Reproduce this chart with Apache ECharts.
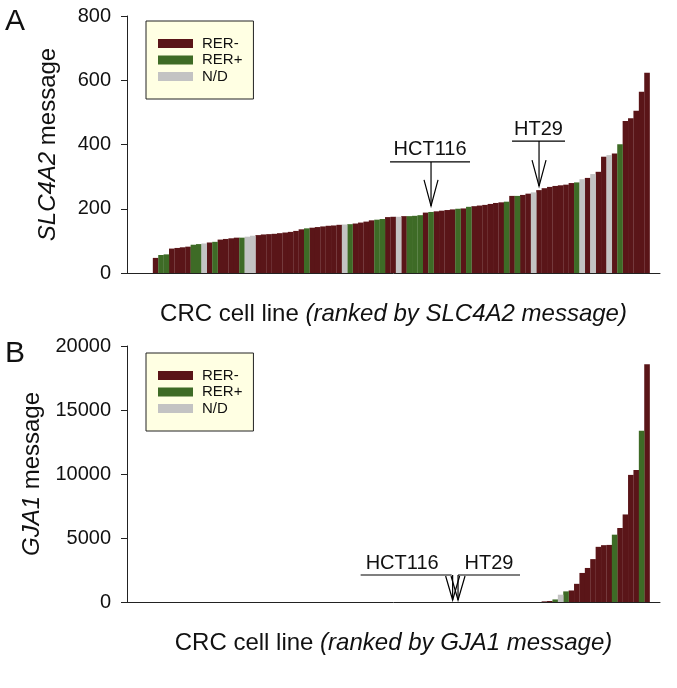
<!DOCTYPE html>
<html><head><meta charset="utf-8">
<script src="https://cdn.jsdelivr.net/npm/echarts@6/dist/echarts.min.js"></script>
<style>html,body{margin:0;padding:0;background:#fff}#c{width:677px;height:688px}</style>
</head><body><div id="c"></div>
<script>
// ---- data ----
const groupNames = ['RER-', 'RER+', 'N/D'];
// Panel A: SLC4A2 message, ranked (92 cell lines). group: 0=RER-, 1=RER+, 2=N/D
const slcValues = [47, 56, 58, 76, 78, 80, 82, 88, 90, 92, 95, 97, 104, 106, 108, 110, 110, 113, 116,
  118, 120, 121, 122, 124, 126, 128, 131, 136, 139, 141, 143, 145, 147, 148, 150, 151, 152,
  154, 157, 160, 164, 166, 168, 174, 175, 175, 177, 177, 178, 180, 188, 190, 192, 194, 196, 198,
  200, 201, 206, 208, 210, 212, 215, 218, 220, 222, 240, 240, 243, 247, 251,
  258, 264, 268, 271, 273, 275, 280, 282, 292, 296, 308, 315, 362, 367, 372, 401, 473, 482, 505, 564, 623];
const slcGroups = [0, 1, 1, 0, 0, 0, 0, 1, 1, 2, 0, 1, 0, 0, 0, 0, 1, 2, 2,
  0, 0, 0, 0, 0, 0, 0, 0, 0, 1, 0, 0, 0, 0, 0, 0, 2, 1,
  0, 0, 0, 0, 1, 1, 0, 0, 2, 0, 1, 1, 1, 0, 1, 0, 0, 0, 0,
  1, 0, 1, 0, 0, 0, 0, 0, 0, 1, 0, 1, 0, 0, 2,
  0, 0, 0, 0, 0, 0, 0, 1, 2, 0, 2, 0, 0, 2, 0, 1, 0, 0, 0, 0, 0];
// Panel B: GJA1 message, ranked (92 cell lines)
const gjaValues = [0, 0, 0, 0, 0, 0, 0, 0, 0, 0, 0, 0, 0, 0, 0, 0, 0, 0, 0, 0, 0, 0, 0, 0,
  0, 0, 0, 0, 0, 0, 0, 0, 0, 0, 0, 0, 0, 0, 0, 0, 0, 0, 0, 0, 0, 0, 0, 0,
  0, 0, 0, 0, 0, 0, 0, 0, 0, 0, 0, 0, 0, 0, 0, 0, 0, 0, 0, 0, 0, 0, 0, 0,
  50, 80, 200, 570, 830, 900, 1420, 2270, 2660, 3350, 4310, 4440, 4460, 5260, 5780, 6840, 9930, 10320, 13370, 18580];
const gjaGroups = [0, 0, 0, 0, 0, 0, 0, 0, 0, 0, 0, 0, 0, 0, 0, 0, 0, 0, 0, 0, 0, 0, 0, 0,
  0, 0, 0, 0, 0, 0, 0, 0, 0, 0, 0, 0, 0, 0, 0, 0, 0, 0, 0, 0, 0, 0, 0, 0,
  0, 0, 0, 0, 0, 0, 0, 0, 0, 0, 0, 0, 0, 0, 0, 0, 0, 0, 0, 0, 0, 0, 0, 0,
  0, 0, 1, 2, 1, 0, 0, 0, 0, 0, 0, 0, 0, 1, 0, 0, 0, 0, 1, 0];
const yTicksA = [0, 200, 400, 600, 800];
const yTicksB = [0, 5000, 10000, 15000, 20000];
const annoLabels = ['HCT116', 'HT29', 'HCT116', 'HT29'];
const annoPanel = [0, 0, 1, 1];
const annoIndex = [51, 71, 55, 56];
const annoValue = [190, 258, 0, 0];

// ---- styles ----
const FONT = '"Liberation Sans", Arial, Helvetica, sans-serif';
const groupColors = ['#5A1518', '#3E6B26', '#C3C3C3'];
const annoLayout = [
  {gap: 6, stem: 44, left: -41, right: 39, dx: 0},
  {gap: 4, stem: 45, left: -27, right: 26, dx: 0},
  {gap: 2, stem: 25, left: -92, right: -1, dx: -4},
  {gap: 2, stem: 25, left: 0, right: 62, dx: 0}
];

const chart = echarts.init(document.getElementById('c'), null, {renderer: 'canvas'});

function makeSeries(values, groups, idx) {
  return groupNames.map((name, g) => ({
    type: 'bar', name, xAxisIndex: idx, yAxisIndex: idx, stack: 'p' + idx,
    barWidth: 5.6, itemStyle: {color: groupColors[g]}, silent: true,
    data: values.map((v, i) => groups[i] === g ? [i, v] : null).filter(d => d !== null)
  }));
}
function xAx(idx, gene) {
  return {
    type: 'value', gridIndex: idx, min: -5.3, max: 93.4,
    axisLine: {show: true, onZero: false, lineStyle: {color: '#222', width: 1}},
    axisTick: {show: false}, axisLabel: {show: false}, splitLine: {show: false},
    name: 'CRC cell line {i|(ranked by ' + gene + ' message)}',
    nameLocation: 'middle', nameGap: 29,
    nameTextStyle: {fontFamily: FONT, fontSize: 24, color: '#111',
      rich: {i: {fontFamily: FONT, fontSize: 24, fontStyle: 'italic', color: '#111'}}}
  };
}
function yAx(idx, ticks, gene) {
  return {
    type: 'value', gridIndex: idx, min: ticks[0], max: ticks[ticks.length - 1],
    interval: ticks[1] - ticks[0],
    axisLine: {show: true, onZero: false, lineStyle: {color: '#222', width: 1}},
    axisTick: {show: true, length: 6, lineStyle: {color: '#222'}},
    axisLabel: {margin: 16, fontFamily: FONT, fontSize: 20, color: '#111', formatter: v => String(v)},
    splitLine: {show: false},
    name: '{i|' + gene + '} message', nameLocation: 'middle', nameGap: 67,
    nameTextStyle: {fontFamily: FONT, fontSize: 24, color: '#111',
      rich: {i: {fontFamily: FONT, fontSize: 24, fontStyle: 'italic', color: '#111'}}}
  };
}
function legendAt(top) {
  return {
    data: groupNames, orient: 'vertical', left: 146, top,
    icon: 'rect', itemWidth: 35, itemHeight: 9, itemGap: 1.5,
    padding: [15, 11, 15, 12],
    backgroundColor: '#FFFFE3', borderColor: '#222', borderWidth: 1,
    textStyle: {fontFamily: FONT, fontSize: 15, color: '#111', padding: [0, 0, 0, 4]},
    selectedMode: false
  };
}

chart.setOption({
  animation: false,
  backgroundColor: '#fff',
  grid: [
    {left: 127, right: 17, top: 16, height: 257},
    {left: 127, right: 17, top: 346, height: 256}
  ],
  xAxis: [xAx(0, 'SLC4A2'), xAx(1, 'GJA1')],
  yAxis: [yAx(0, yTicksA, 'SLC4A2'), yAx(1, yTicksB, 'GJA1')],
  legend: [legendAt(21), legendAt(353)],
  series: makeSeries(slcValues, slcGroups, 0).concat(makeSeries(gjaValues, gjaGroups, 1))
});

// annotations anchored to data coordinates
const g = [];
g.push({type: 'text', left: 5, top: 7, style: {text: 'A', font: '30px ' + FONT, fill: '#111'}});
g.push({type: 'text', left: 5, top: 339, style: {text: 'B', font: '30px ' + FONT, fill: '#111'}});
annoLabels.forEach((lab, k) => {
  const L = annoLayout[k];
  const p = chart.convertToPixel({gridIndex: annoPanel[k]}, [annoIndex[k], annoValue[k]]);
  const x = p[0], tip = p[1] - L.gap, top = tip - L.stem;
  const head = Math.min(26, L.stem - 1);
  const ls = {stroke: '#000', lineWidth: 1.2};
  g.push({type: 'line', shape: {x1: x, y1: top, x2: x, y2: tip}, style: ls});
  g.push({type: 'polyline', shape: {points: [[x - 7, tip - head], [x, tip], [x + 7, tip - head]]}, style: Object.assign({fill: null}, ls)});
  g.push({type: 'line', shape: {x1: x + L.left, y1: top, x2: x + L.right, y2: top}, style: ls});
  g.push({type: 'text', x: x + (L.left + L.right) / 2 + L.dx, y: top - 2,
    style: {text: lab, font: '20px ' + FONT, fill: '#111', textAlign: 'center', textVerticalAlign: 'bottom'}});
});
chart.setOption({graphic: g});
</script>
</body></html>
